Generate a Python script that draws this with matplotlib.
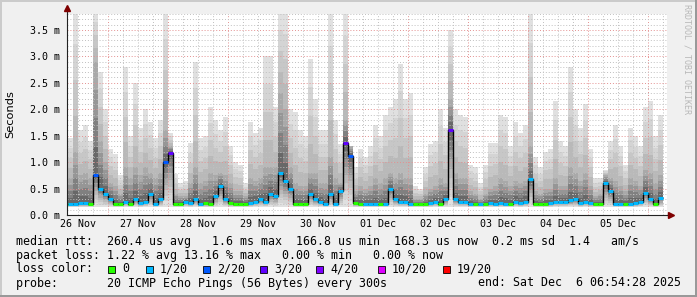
import numpy as np
import pandas as pd
import matplotlib
matplotlib.use("Agg")
import matplotlib.pyplot as plt
import matplotlib.dates as mdates
from matplotlib.patches import Rectangle
from matplotlib.ticker import FixedLocator, FuncFormatter

# ---- data (2 h bins from 26 Nov 06:00, values in ms) ---------------------
bin_start = pd.date_range("2025-11-26 06:00", periods=120, freq="2h")

ping_max = [1.39, 1.45, 3.9, 1.6, 1.7, 1.4, 3.9, 2.7, 2.0, 1.25, 1.15, 0.75, 2.8, 1.5, 2.5, 1.65, 2.0, 1.75, 1.45, 1.8, 3.9,
            1.55, 0.78, 0.6, 0.65, 1.36, 2.9, 1.45, 1.5, 2.05, 1.8, 1.6, 1.85, 1.3, 1.0, 0.95, 0.6, 1.75, 1.55, 1.65, 3.0,
            3.0, 2.05, 3.9, 3.9, 2.0, 1.95, 1.6, 1.5, 2.95, 2.2, 1.6, 1.6, 3.9, 1.8, 1.35, 3.9, 1.15, 0.9, 1.25, 1.1,
            1.3, 1.7, 1.5, 1.9, 2.05, 2.2, 2.85, 2.2, 2.3, 0.55, 0.5, 0.9, 1.35, 1.4, 2.0, 1.65, 3.5, 2.0, 1.9, 1.85,
            0.95, 0.9, 0.6, 0.95, 1.36, 1.36, 1.9, 1.85, 1.3, 1.75, 1.55, 1.7, 3.9, 1.1, 0.9, 1.2, 1.25, 2.15, 1.4, 1.3,
            2.8, 2.0, 1.65, 2.1, 1.25, 0.7, 0.7, 0.85, 1.4, 1.7, 1.3, 0.95, 1.65, 1.5, 1.3, 2.05, 2.15, 1.5, 1.9]

ping_mid = [0.6, 0.7, 1.2, 0.75, 0.8, 0.7, 2.9, 1.4, 1.0, 0.6, 0.55, 0.4, 0.9, 0.7, 0.9, 0.75, 0.9, 0.8, 0.7, 0.8, 1.6,
            1.3, 0.4, 0.35, 0.35, 0.6, 0.9, 0.6, 0.65, 0.8, 0.75, 0.8, 0.75, 0.6, 0.45, 0.45, 0.35, 0.7, 0.65, 0.7, 0.9,
            0.9, 0.9, 2.3, 2.0, 0.9, 0.6, 0.55, 0.55, 0.8, 0.8, 0.6, 0.6, 1.1, 0.7, 0.6, 1.8, 1.3, 0.45, 0.55, 0.5,
            0.55, 0.7, 0.6, 0.7, 0.8, 0.7, 0.8, 0.7, 0.7, 0.3, 0.3, 0.4, 0.5, 0.55, 0.7, 0.6, 2.2, 0.8, 0.7, 0.7,
            0.45, 0.4, 0.3, 0.4, 0.5, 0.55, 0.7, 0.65, 0.55, 0.65, 0.6, 0.65, 1.3, 0.45, 0.4, 0.5, 0.5, 0.7, 0.55, 0.55,
            0.9, 0.8, 0.65, 0.8, 0.55, 0.35, 0.4, 0.75, 0.7, 0.65, 0.55, 0.45, 0.7, 0.65, 0.55, 0.85, 0.8, 0.6, 0.75]

median = [0.2, 0.2, 0.2, 0.22, 0.22, 0.2, 0.75, 0.5, 0.4, 0.3, 0.2, 0.2, 0.25, 0.2, 0.3, 0.22, 0.25, 0.4, 0.2, 0.3, 1.0,
          1.18, 0.2, 0.2, 0.25, 0.22, 0.3, 0.2, 0.22, 0.2, 0.35, 0.55, 0.3, 0.22, 0.2, 0.2, 0.2, 0.22, 0.25, 0.3, 0.25,
          0.4, 0.35, 0.8, 0.65, 0.5, 0.2, 0.2, 0.2, 0.4, 0.3, 0.25, 0.2, 0.4, 0.2, 0.45, 1.37, 1.12, 0.22, 0.2, 0.2,
          0.2, 0.2, 0.2, 0.2, 0.5, 0.3, 0.25, 0.25, 0.2, 0.2, 0.2, 0.2, 0.22, 0.25, 0.2, 0.3, 1.6, 0.3, 0.25, 0.25,
          0.2, 0.2, 0.2, 0.2, 0.22, 0.2, 0.22, 0.2, 0.2, 0.25, 0.22, 0.25, 0.68, 0.2, 0.2, 0.2, 0.22, 0.25, 0.25, 0.25,
          0.28, 0.3, 0.22, 0.25, 0.22, 0.2, 0.2, 0.6, 0.45, 0.2, 0.2, 0.2, 0.2, 0.22, 0.25, 0.42, 0.3, 0.2, 0.32]

loss = [0, 1, 1, 1, 1, 0, 2, 1, 1, 1, 0, 0, 1, 0, 1, 1, 1, 1, 1, 1, 2,
        3, 0, 0, 1, 1, 1, 1, 0, 0, 1, 1, 1, 0, 0, 0, 0, 1, 1, 1, 1,
        1, 1, 1, 1, 1, 0, 0, 0, 1, 1, 1, 1, 1, 1, 1, 3, 2, 0, 0, 1,
        1, 1, 0, 1, 1, 1, 1, 1, 1, 0, 0, 0, 1, 1, 0, 1, 3, 1, 1, 1,
        1, 0, 1, 0, 1, 1, 1, 1, 0, 1, 1, 1, 1, 0, 0, 0, 1, 1, 1, 1,
        1, 1, 1, 1, 1, 0, 0, 1, 1, 1, 1, 0, 1, 1, 1, 1, 1, 0, 1]

ping_min = 0.15

loss_labels = ["0", "1/20", "2/20", "3/20", "4/20", "10/20", "19/20"]
loss_colors = ["#26ff00", "#00b8ff", "#0059ff", "#5e00ff", "#7e00ff", "#dd00ff", "#ff0000"]

line_rtt = "median rtt:  260.4 us avg   1.6 ms max  166.8 us min  168.3 us now  0.2 ms sd  1.4   am/s"
line_loss = "packet loss: 1.22 % avg 13.16 % max   0.00 % min   0.00 % now"
line_probe = "probe:       20 ICMP Echo Pings (56 Bytes) every 300s"
line_end = "end: Sat Dec  6 06:54:28 2025"

# ---- figure ---------------------------------------------------------------
W, H = 697, 297
MONO = "DejaVu Sans Mono"
fig = plt.figure(figsize=(W / 100, H / 100), dpi=100, facecolor="#f0f0f0")

# 3D-ish border like rrdtool
for (x0, y0, w, h, c) in [(0, 1 - 2 / H, 1, 2 / H, "#cbcbcb"), (0, 0, 2 / W, 1, "#cbcbcb"),
                          (0, 0, 1, 2 / H, "#999999"), (1 - 2 / W, 0, 2 / W, 1, "#999999")]:
    fig.add_artist(Rectangle((x0, y0), w, h, transform=fig.transFigure, color=c, lw=0))

ax = fig.add_axes([66.5 / W, 1 - 215 / H, 600 / W, 201 / H])
ax.set_facecolor("white")

x0 = mdates.date2num(bin_start)
width = 2 / 24
ping_max = np.array(ping_max)
ping_mid = np.array(ping_mid)
med = np.array(median)

# smoke: outer (light) bands first, darker bands toward the median
shades = ["#e0e0e0", "#d4d4d4", "#c7c7c7", "#b9b9b9", "#a9a9a9", "#969696", "#808080", "#686868"]
for j, shade in enumerate(shades):
    if j < 4:
        top = ping_max - (ping_max - ping_mid) * j / 4
    else:
        top = ping_mid - (ping_mid - med) * (j - 4) / 4
    bot = ping_min + (med - ping_min) * j / 8
    ax.bar(x0, top - bot, bottom=bot, width=width, align="edge", color=shade, lw=0, zorder=1)

# median: black step + loss-coloured segments
edges = np.append(x0, x0[-1] + width)
ax.stairs(med, edges, baseline=None, color="black", lw=1, zorder=3)
ax.hlines(med, x0, x0 + width, colors=[loss_colors[i] for i in loss], lw=2.2, zorder=4)

ax.set_xlim(mdates.date2num(pd.Timestamp("2025-11-26 07:30")),
            mdates.date2num(pd.Timestamp("2025-12-06 07:30")))
ax.set_ylim(0, 3.8)

# grid (drawn over the smoke, as rrdtool does)
days = pd.date_range("2025-11-27", "2025-12-06", freq="D")
quarters = pd.date_range("2025-11-26 12:00", "2025-12-06 06:00", freq="6h")
quarters = quarters[quarters.hour != 0]
ax.xaxis.set_major_locator(FixedLocator(mdates.date2num(days)))
ax.xaxis.set_minor_locator(FixedLocator(mdates.date2num(quarters)))
ax.xaxis.set_major_formatter(FuncFormatter(lambda v, p: ""))
ax.xaxis.set_minor_formatter(FuncFormatter(
    lambda v, p: mdates.num2date(v).strftime("%d %b") if mdates.num2date(v).hour == 12 else ""))
ax.set_yticks(np.arange(0, 3.51, 0.5))
ax.set_yticks(np.arange(0, 3.81, 0.1), minor=True)
ax.set_yticklabels([f"{v:.1f} m" for v in np.arange(0, 3.51, 0.5)])

ax.grid(which="minor", color="#c0c0c0", lw=0.7, ls=(0, (1, 2)), zorder=5)
ax.grid(which="major", color="#e49090", lw=0.7, ls=(0, (1, 2)), zorder=6)
ax.set_axisbelow(False)

ax.tick_params(which="both", length=0, labelsize=7.2, colors="black")
ax.tick_params(axis="y", pad=4.8)
ax.tick_params(axis="x", which="both", pad=3.0)
for lab in ax.get_xticklabels(minor=True) + ax.get_yticklabels():
    lab.set_family(MONO)

for s in ["top", "right"]:
    ax.spines[s].set_visible(False)
for s in ["left", "bottom"]:
    ax.spines[s].set_color("#222222")
    ax.spines[s].set_linewidth(0.8)
    ax.spines[s].set_zorder(7)

# axis arrows
ax.plot([0, 0], [1, 1.03], transform=ax.transAxes, color="#222222", lw=0.8, clip_on=False)
ax.plot([1, 1.008], [0, 0], transform=ax.transAxes, color="#222222", lw=0.8, clip_on=False)
ax.plot(0, 1.03, marker="^", ms=4.5, color="#7f0000", transform=ax.transAxes, clip_on=False)
ax.plot(1.008, 0, marker=">", ms=4.5, color="#7f0000", transform=ax.transAxes, clip_on=False)

fig.text(10 / W, 1 - 114 / H, "Seconds", rotation=90, ha="center", va="center",
         fontsize=8.2, family="DejaVu Sans")
fig.text(687 / W, 1 - 4 / H, "RRDTOOL / TOBI OETIKER", rotation=270, ha="center", va="top",
         fontsize=6, family=MONO, color="#b8b8b8")

# legend block
def ftext(xp, yp, s, **kw):
    fig.text(xp / W, 1 - yp / H, s, ha="left", va="center", fontsize=8.4, family=MONO, **kw)

ftext(16, 241, line_rtt)
ftext(16, 255, line_loss)
ftext(16, 269, "loss color:")
box_x = [108, 146, 203, 260, 316, 378, 443]
for bx, lab, col in zip(box_x, loss_labels, loss_colors):
    fig.add_artist(Rectangle((bx / W, 1 - 273 / H), 7 / W, 7 / H, transform=fig.transFigure,
                             facecolor=col, edgecolor="black", lw=0.6))
    ftext(bx + 14, 269, lab)
ftext(16, 283, line_probe)
ftext(478, 283, line_end)

fig.savefig("out.png", dpi=100, facecolor=fig.get_facecolor())
